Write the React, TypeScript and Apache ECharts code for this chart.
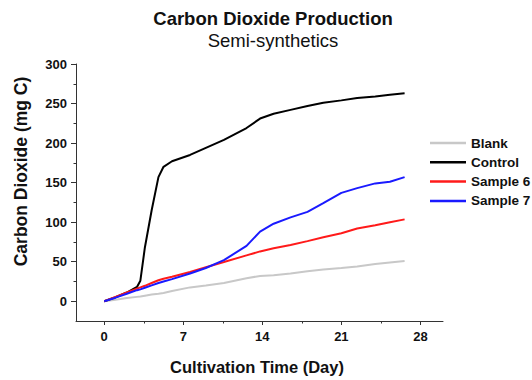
import React, { useEffect, useRef } from "react";
import * as echarts from "echarts";

const days = [0, 1, 2, 2.9, 3.2, 3.6, 4.2, 4.8, 5.25, 6, 7.6, 9, 10.6, 12.6, 13.8, 15, 16.5, 18, 19.4, 21, 22.4, 24, 25.3, 26.6];
const blank = [0, 2, 4, 5.5, 6, 7, 8.5, 9.5, 10.5, 13, 17.5, 20, 23, 29, 32, 33, 35, 38, 40, 42, 44, 47, 49, 51];
const control = [0, 5, 11, 18, 26, 68, 115, 157, 170, 177, 185, 194, 204, 219, 231, 237, 242, 247, 251, 254, 257, 259, 261, 263];
const sample6 = [0, 5.5, 11, 16, 17.5, 19.5, 23, 26.5, 28.5, 31, 37, 43, 49.6, 58, 63, 67, 71, 76, 81, 86, 92, 96, 100, 103.5];
const sample7 = [0, 4.5, 9.5, 14, 15, 17, 20, 23, 25, 28, 35, 42, 52, 70, 88, 98, 106, 113, 124, 137, 143, 149, 151, 157];

const xTickLabels = [0, 7, 14, 21, 28];
const xMinorTicks = [3.5, 10.5, 17.5, 24.5];
const yTickLabels = [0, 50, 100, 150, 200, 250, 300];
const yMinorTicks = [25, 75, 125, 175, 225, 275];

const FONT = "'Liberation Sans', Arial, sans-serif";

export default function App() {
  const ref = useRef<HTMLDivElement>(null);
  useEffect(() => {
    if (!ref.current) return;
    const chart = echarts.init(ref.current, null, { renderer: "svg" });
    const pts = (vals: number[]) => days.map((d, i) => [d, vals[i]]);
    const axisColor = "#333";
    const mkSeries = (name: string, vals: number[], color: string) => ({
      name,
      type: "line",
      data: pts(vals),
      symbol: "none",
      lineStyle: { color, width: 2 },
      itemStyle: { color },
      xAxisIndex: 0,
      yAxisIndex: 0,
    });
    chart.setOption({
      animation: false,
      textStyle: { fontFamily: FONT },
      grid: { left: 76, right: 89, top: 64, bottom: 59, containLabel: false },
      xAxis: [
        {
          type: "value",
          min: -2.5,
          max: 30,
          position: "bottom",
          axisLine: { show: true, onZero: false, lineStyle: { color: axisColor, width: 1 } },
          axisTick: { show: true, customValues: xTickLabels, length: 4, lineStyle: { color: axisColor } },
          axisLabel: {
            customValues: xTickLabels,
            margin: 9,
            color: "#111",
            fontWeight: "bold",
            fontSize: 13,
            fontFamily: FONT,
          },
          splitLine: { show: false },
        },
        {
          type: "value",
          min: -2.5,
          max: 30,
          position: "bottom",
          offset: 0,
          axisLine: { show: false, onZero: false },
          axisTick: { show: true, customValues: xMinorTicks, length: 2.5, lineStyle: { color: axisColor } },
          axisLabel: { show: false },
          splitLine: { show: false },
        },
      ],
      yAxis: [
        {
          type: "value",
          min: -25,
          max: 300,
          position: "left",
          axisLine: { show: true, onZero: false, lineStyle: { color: axisColor, width: 1 } },
          axisTick: { show: true, customValues: yTickLabels, length: 5, lineStyle: { color: axisColor } },
          axisLabel: {
            customValues: yTickLabels,
            margin: 9,
            color: "#111",
            fontWeight: "bold",
            fontSize: 13,
            fontFamily: FONT,
          },
          splitLine: { show: false },
        },
        {
          type: "value",
          min: -25,
          max: 300,
          position: "left",
          offset: 0,
          axisLine: { show: false, onZero: false },
          axisTick: { show: true, customValues: yMinorTicks, length: 2.5, lineStyle: { color: axisColor } },
          axisLabel: { show: false },
          splitLine: { show: false },
        },
      ],
      legend: {
        orient: "vertical",
        left: 425,
        top: 131,
        icon: "rect",
        itemWidth: 36,
        itemHeight: 2.5,
        itemGap: 5.3,
        textStyle: { fontWeight: "bold", fontSize: 13.5, lineHeight: 14, color: "#111", fontFamily: FONT },
        data: ["Blank", "Control", "Sample 6", "Sample 7"],
      },
      graphic: [
        {
          type: "text",
          x: 273,
          y: 18.6,
          style: {
            text: "Carbon Dioxide Production",
            font: `bold 18.5px ${FONT}`,
            fill: "#111",
            align: "center",
            verticalAlign: "middle",
          },
        },
        {
          type: "text",
          x: 273,
          y: 40.5,
          style: {
            text: "Semi-synthetics",
            font: `18.5px ${FONT}`,
            fill: "#111",
            align: "center",
            verticalAlign: "middle",
          },
        },
        {
          type: "text",
          x: 20.5,
          y: 171.5,
          rotation: Math.PI / 2,
          style: {
            text: "Carbon Dioxide (mg C)",
            font: `bold 17.5px ${FONT}`,
            fill: "#111",
            align: "center",
            verticalAlign: "middle",
          },
        },
        {
          type: "text",
          x: 257,
          y: 367,
          style: {
            text: "Cultivation Time (Day)",
            font: `bold 16.5px ${FONT}`,
            fill: "#111",
            align: "center",
            verticalAlign: "middle",
          },
        },
      ],
      series: [
        mkSeries("Blank", blank, "#c8c8c8"),
        mkSeries("Control", control, "#000000"),
        mkSeries("Sample 6", sample6, "#ff1a1a"),
        mkSeries("Sample 7", sample7, "#1a1aff"),
      ],
    });
    return () => chart.dispose();
  }, []);
  return <div ref={ref} style={{ width: 532, height: 380, position: "absolute", left: 0, top: 0 }} />;
}
